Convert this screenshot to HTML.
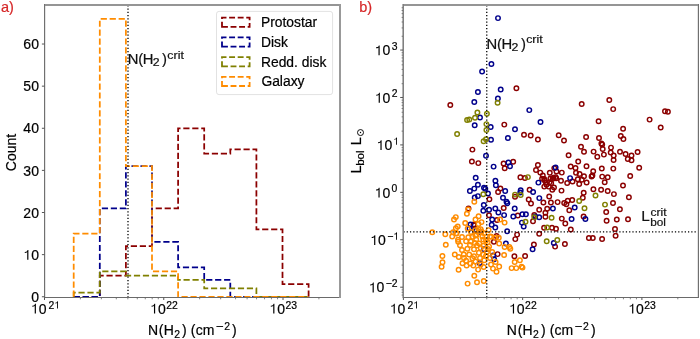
<!DOCTYPE html><html><head><meta charset="utf-8"><title>figure</title><style>html,body{margin:0;padding:0;background:#fff;width:700px;height:339px;overflow:hidden;}svg{display:block;will-change:transform;}text{font-family:"Liberation Sans",sans-serif;font-kerning:none;stroke-width:0.2px;}</style></head><body>
<svg width="700" height="339" viewBox="0 0 700 339">
<rect x="0" y="0" width="700" height="339" fill="#fff"/>
<path d="M73.70,296.75 L73.70,296.75 L99.80,296.75 L99.80,275.69 L125.90,275.69 L125.90,246.21 L152.00,246.21 L152.00,208.30 L178.10,208.30 L178.10,128.27 L204.20,128.27 L204.20,153.54 L230.30,153.54 L230.30,149.33 L256.40,149.33 L256.40,229.36 L282.50,229.36 L282.50,284.11 L308.60,284.11 L308.60,296.75" fill="none" stroke="#8b0000" stroke-width="1.75" stroke-dasharray="6.2 2.77"/>
<path d="M73.70,296.75 L73.70,296.75 L99.80,296.75 L99.80,208.30 L125.90,208.30 L125.90,166.18 L152.00,166.18 L152.00,241.99 L178.10,241.99 L178.10,267.27 L204.20,267.27 L204.20,279.90 L230.30,279.90 L230.30,296.75 L256.40,296.75 L256.40,296.75 L282.50,296.75 L282.50,296.75 L308.60,296.75 L308.60,296.75" fill="none" stroke="#00008b" stroke-width="1.75" stroke-dasharray="6.2 2.77"/>
<path d="M73.70,296.75 L73.70,292.54 L99.80,292.54 L99.80,271.48 L125.90,271.48 L125.90,275.69 L152.00,275.69 L152.00,275.69 L178.10,275.69 L178.10,279.90 L204.20,279.90 L204.20,288.33 L230.30,288.33 L230.30,288.33 L256.40,288.33 L256.40,296.75 L282.50,296.75 L282.50,296.75 L308.60,296.75 L308.60,296.75" fill="none" stroke="#808000" stroke-width="1.75" stroke-dasharray="6.2 2.77"/>
<path d="M73.70,296.75 L73.70,233.57 L99.80,233.57 L99.80,18.76 L125.90,18.76 L125.90,166.18 L152.00,166.18 L152.00,271.48 L178.10,271.48 L178.10,296.75 L204.20,296.75 L204.20,296.75 L230.30,296.75 L230.30,296.75 L256.40,296.75 L256.40,296.75 L282.50,296.75 L282.50,296.75 L308.60,296.75 L308.60,296.75" fill="none" stroke="#ff8c00" stroke-width="1.75" stroke-dasharray="6.2 2.77"/>
<line x1="128.0" y1="297.5" x2="128.0" y2="4.5" stroke="#000" stroke-width="1.3" stroke-dasharray="1.25 2.021"/>
<text x="127.79" y="64.30" font-size="14.8" fill="#111" stroke="#111" text-anchor="start">N</text>
<text x="138.28" y="64.30" font-size="14.8" fill="#111" stroke="#111" text-anchor="start">(</text>
<text x="142.79" y="64.30" font-size="14.8" fill="#111" stroke="#111" text-anchor="start">H</text>
<text transform="translate(152.78,66.40) scale(1.160,1)" x="0" y="0" font-size="10.6" fill="#111" stroke="#111">2</text>
<text x="162.11" y="64.30" font-size="14.8" fill="#111" stroke="#111" text-anchor="start">)</text>
<text transform="translate(167.37,59.00) scale(1.147,1)" x="0" y="0" font-size="10.8" fill="#111" stroke="#111">crit</text>
<rect x="44" y="4" width="297" height="2" fill="#959595"/><rect x="44" y="297" width="297" height="1" fill="#6a6a6a"/><rect x="44" y="4" width="1" height="294" fill="#707070"/><rect x="45" y="6" width="1" height="291" fill="#e4e4e4"/><rect x="339" y="4" width="2" height="294" fill="#999999"/>
<line x1="41.9" y1="296.75" x2="44.5" y2="296.75" stroke="#555" stroke-width="1"/>
<text x="31.16" y="301.95" font-size="14" fill="#000" stroke="#000" text-anchor="start">0</text>
<line x1="41.9" y1="254.63" x2="44.5" y2="254.63" stroke="#555" stroke-width="1"/>
<polygon points="27.21,259.83 28.40,259.83 28.40,249.99 27.57,249.99 27.36,250.59 26.94,251.22 26.24,251.64 24.79,251.91 24.79,252.89 26.03,252.75 26.73,252.48 27.21,252.10" fill="#000"/>
<text x="31.16" y="259.83" font-size="14" fill="#000" stroke="#000">0</text>
<line x1="41.9" y1="212.51" x2="44.5" y2="212.51" stroke="#555" stroke-width="1"/>
<text x="23.37" y="217.71" font-size="14" fill="#000" stroke="#000" text-anchor="start">20</text>
<line x1="41.9" y1="170.39" x2="44.5" y2="170.39" stroke="#555" stroke-width="1"/>
<text x="23.37" y="175.59" font-size="14" fill="#000" stroke="#000" text-anchor="start">30</text>
<line x1="41.9" y1="128.27" x2="44.5" y2="128.27" stroke="#555" stroke-width="1"/>
<text x="23.37" y="133.47" font-size="14" fill="#000" stroke="#000" text-anchor="start">40</text>
<line x1="41.9" y1="86.15" x2="44.5" y2="86.15" stroke="#555" stroke-width="1"/>
<text x="23.37" y="91.35" font-size="14" fill="#000" stroke="#000" text-anchor="start">50</text>
<line x1="41.9" y1="44.03" x2="44.5" y2="44.03" stroke="#555" stroke-width="1"/>
<text x="23.37" y="49.23" font-size="14" fill="#000" stroke="#000" text-anchor="start">60</text>
<line x1="44.50" y1="297.5" x2="44.50" y2="300" stroke="#555" stroke-width="1"/>
<line x1="80.40" y1="297.5" x2="80.40" y2="299.3" stroke="#666" stroke-width="0.8"/>
<line x1="101.40" y1="297.5" x2="101.40" y2="299.3" stroke="#666" stroke-width="0.8"/>
<line x1="116.30" y1="297.5" x2="116.30" y2="299.3" stroke="#666" stroke-width="0.8"/>
<line x1="127.85" y1="297.5" x2="127.85" y2="299.3" stroke="#666" stroke-width="0.8"/>
<line x1="137.29" y1="297.5" x2="137.29" y2="299.3" stroke="#666" stroke-width="0.8"/>
<line x1="145.28" y1="297.5" x2="145.28" y2="299.3" stroke="#666" stroke-width="0.8"/>
<line x1="152.19" y1="297.5" x2="152.19" y2="299.3" stroke="#666" stroke-width="0.8"/>
<line x1="158.29" y1="297.5" x2="158.29" y2="299.3" stroke="#666" stroke-width="0.8"/>
<polygon points="34.72,313.60 35.91,313.60 35.91,303.76 35.08,303.76 34.87,304.36 34.45,304.99 33.75,305.41 32.30,305.68 32.30,306.66 33.54,306.52 34.24,306.25 34.72,305.87" fill="#000"/>
<text x="38.67" y="313.60" font-size="14" fill="#000" stroke="#000">0</text>
<text x="48.48" y="308.60" font-size="10.4" fill="#000" stroke="#000">2</text>
<polygon points="57.12,308.60 58.00,308.60 58.00,301.29 57.39,301.29 57.23,301.74 56.92,302.20 56.40,302.52 55.32,302.71 55.32,303.44 56.24,303.34 56.76,303.14 57.12,302.86" fill="#000"/>
<line x1="163.75" y1="297.5" x2="163.75" y2="300" stroke="#555" stroke-width="1"/>
<line x1="199.65" y1="297.5" x2="199.65" y2="299.3" stroke="#666" stroke-width="0.8"/>
<line x1="220.65" y1="297.5" x2="220.65" y2="299.3" stroke="#666" stroke-width="0.8"/>
<line x1="235.55" y1="297.5" x2="235.55" y2="299.3" stroke="#666" stroke-width="0.8"/>
<line x1="247.10" y1="297.5" x2="247.10" y2="299.3" stroke="#666" stroke-width="0.8"/>
<line x1="256.54" y1="297.5" x2="256.54" y2="299.3" stroke="#666" stroke-width="0.8"/>
<line x1="264.53" y1="297.5" x2="264.53" y2="299.3" stroke="#666" stroke-width="0.8"/>
<line x1="271.44" y1="297.5" x2="271.44" y2="299.3" stroke="#666" stroke-width="0.8"/>
<line x1="277.54" y1="297.5" x2="277.54" y2="299.3" stroke="#666" stroke-width="0.8"/>
<polygon points="153.97,313.60 155.16,313.60 155.16,303.76 154.33,303.76 154.12,304.36 153.70,304.99 153.00,305.41 151.55,305.68 151.55,306.66 152.79,306.52 153.49,306.25 153.97,305.87" fill="#000"/>
<text x="157.92" y="313.60" font-size="14" fill="#000" stroke="#000">0</text>
<text x="166.21" y="308.60" font-size="10.4" fill="#000" stroke="#000" text-anchor="start">22</text>
<line x1="283.00" y1="297.5" x2="283.00" y2="300" stroke="#555" stroke-width="1"/>
<line x1="318.90" y1="297.5" x2="318.90" y2="299.3" stroke="#666" stroke-width="0.8"/>
<polygon points="273.22,313.60 274.41,313.60 274.41,303.76 273.58,303.76 273.37,304.36 272.95,304.99 272.25,305.41 270.80,305.68 270.80,306.66 272.04,306.52 272.74,306.25 273.22,305.87" fill="#000"/>
<text x="277.17" y="313.60" font-size="14" fill="#000" stroke="#000">0</text>
<text x="285.39" y="308.60" font-size="10.4" fill="#000" stroke="#000" text-anchor="start">23</text>
<text x="147.95" y="334.70" font-size="14" fill="#000" stroke="#000" text-anchor="start">N</text>
<text x="158.83" y="334.70" font-size="14" fill="#000" stroke="#000" text-anchor="start">(</text>
<text x="163.65" y="334.70" font-size="14" fill="#000" stroke="#000" text-anchor="start">H</text>
<text x="174.28" y="337.60" font-size="10.4" fill="#000" stroke="#000" text-anchor="start">2</text>
<text x="182.12" y="334.70" font-size="14" fill="#000" stroke="#000" text-anchor="start">)</text>
<text x="190.83" y="334.70" font-size="14" fill="#000" stroke="#000" text-anchor="start">(</text>
<text x="195.81" y="334.70" font-size="14" fill="#000" stroke="#000" text-anchor="start">cm</text>
<rect x="216.40" y="326.1" width="6.7" height="0.9" fill="#000"/>
<text x="224.18" y="329.60" font-size="10.4" fill="#000" stroke="#000" text-anchor="start">2</text>
<text x="232.12" y="334.70" font-size="14" fill="#000" stroke="#000" text-anchor="start">)</text>
<text transform="translate(16.0,152.5) rotate(-90)" font-size="14" text-anchor="middle" fill="#000" stroke="#000">Count</text>
<rect x="216.5" y="11.4" width="116.1" height="83.2" rx="2.5" ry="2.5" fill="#fff" fill-opacity="0.8" stroke="#e2e2e2" stroke-width="1"/>
<path d="M222.00,26.90 L249.60,26.90 L249.60,17.70 L222.00,17.70 Z" fill="none" stroke="#8b0000" stroke-width="1.8" stroke-dasharray="5.9 2.66" stroke-linejoin="miter"/>
<text x="260.96" y="27.10" font-size="13.85" fill="#000" stroke="#000" text-anchor="start">Protostar</text>
<path d="M222.00,46.60 L249.60,46.60 L249.60,37.40 L222.00,37.40 Z" fill="none" stroke="#00008b" stroke-width="1.8" stroke-dasharray="5.9 2.66" stroke-linejoin="miter"/>
<text x="260.96" y="46.80" font-size="13.85" fill="#000" stroke="#000" text-anchor="start">Disk</text>
<path d="M222.00,66.30 L249.60,66.30 L249.60,57.10 L222.00,57.10 Z" fill="none" stroke="#808000" stroke-width="1.8" stroke-dasharray="5.9 2.66" stroke-linejoin="miter"/>
<text x="260.96" y="66.50" font-size="13.85" fill="#000" stroke="#000" text-anchor="start">Redd. disk</text>
<path d="M222.00,86.00 L249.60,86.00 L249.60,76.80 L222.00,76.80 Z" fill="none" stroke="#ff8c00" stroke-width="1.8" stroke-dasharray="5.9 2.66" stroke-linejoin="miter"/>
<text x="261.40" y="86.20" font-size="13.85" fill="#000" stroke="#000" text-anchor="start">Galaxy</text>
<text x="0.88" y="11.80" font-size="14.5" fill="#d62728" stroke="#d62728" text-anchor="start">a)</text>
<g fill="none" stroke="#8b0000" stroke-width="1.45"><circle cx="516.4" cy="88.3" r="2.25"/><circle cx="450.3" cy="104.9" r="2.25"/><circle cx="504.3" cy="124.6" r="2.25"/><circle cx="524.0" cy="134.7" r="2.25"/><circle cx="530.7" cy="135.5" r="2.25"/><circle cx="537.9" cy="139.5" r="2.25"/><circle cx="581.7" cy="103.9" r="2.25"/><circle cx="609.3" cy="99.9" r="2.25"/><circle cx="613.2" cy="109.1" r="2.25"/><circle cx="598.6" cy="121.3" r="2.25"/><circle cx="623.1" cy="128.8" r="2.25"/><circle cx="558.7" cy="135.3" r="2.25"/><circle cx="564.0" cy="140.5" r="2.25"/><circle cx="586.1" cy="137.0" r="2.25"/><circle cx="599.0" cy="138.0" r="2.25"/><circle cx="620.8" cy="136.0" r="2.25"/><circle cx="623.4" cy="139.0" r="2.25"/><circle cx="665.0" cy="111.3" r="2.25"/><circle cx="667.9" cy="111.7" r="2.25"/><circle cx="649.6" cy="119.6" r="2.25"/><circle cx="660.7" cy="127.4" r="2.25"/><circle cx="472.4" cy="149.6" r="2.25"/><circle cx="471.9" cy="161.4" r="2.25"/><circle cx="478.3" cy="163.1" r="2.25"/><circle cx="581.0" cy="146.8" r="2.25"/><circle cx="584.0" cy="151.8" r="2.25"/><circle cx="568.6" cy="155.2" r="2.25"/><circle cx="503.6" cy="163.4" r="2.25"/><circle cx="504.7" cy="168.3" r="2.25"/><circle cx="513.2" cy="161.8" r="2.25"/><circle cx="537.9" cy="164.9" r="2.25"/><circle cx="536.0" cy="170.0" r="2.25"/><circle cx="554.3" cy="168.1" r="2.25"/><circle cx="570.7" cy="166.5" r="2.25"/><circle cx="578.2" cy="161.5" r="2.25"/><circle cx="586.5" cy="166.3" r="2.25"/><circle cx="575.5" cy="168.0" r="2.25"/><circle cx="540.3" cy="172.6" r="2.25"/><circle cx="549.8" cy="172.8" r="2.25"/><circle cx="561.8" cy="172.6" r="2.25"/><circle cx="556.5" cy="171.4" r="2.25"/><circle cx="520.4" cy="177.2" r="2.25"/><circle cx="524.9" cy="178.0" r="2.25"/><circle cx="542.8" cy="175.4" r="2.25"/><circle cx="576.0" cy="172.7" r="2.25"/><circle cx="579.6" cy="174.0" r="2.25"/><circle cx="584.0" cy="176.2" r="2.25"/><circle cx="555.7" cy="177.1" r="2.25"/><circle cx="553.5" cy="177.6" r="2.25"/><circle cx="550.4" cy="178.5" r="2.25"/><circle cx="544.2" cy="178.9" r="2.25"/><circle cx="561.0" cy="180.7" r="2.25"/><circle cx="577.8" cy="179.3" r="2.25"/><circle cx="581.8" cy="179.8" r="2.25"/><circle cx="545.9" cy="182.4" r="2.25"/><circle cx="567.2" cy="182.9" r="2.25"/><circle cx="572.5" cy="181.5" r="2.25"/><circle cx="586.6" cy="182.5" r="2.25"/><circle cx="551.2" cy="183.3" r="2.25"/><circle cx="601.4" cy="143.4" r="2.25"/><circle cx="602.2" cy="144.4" r="2.25"/><circle cx="602.7" cy="148.9" r="2.25"/><circle cx="611.0" cy="147.6" r="2.25"/><circle cx="593.6" cy="151.6" r="2.25"/><circle cx="603.9" cy="154.6" r="2.25"/><circle cx="597.3" cy="156.7" r="2.25"/><circle cx="610.7" cy="152.4" r="2.25"/><circle cx="613.7" cy="155.5" r="2.25"/><circle cx="613.6" cy="160.0" r="2.25"/><circle cx="620.0" cy="151.7" r="2.25"/><circle cx="625.6" cy="153.9" r="2.25"/><circle cx="631.5" cy="155.4" r="2.25"/><circle cx="637.6" cy="151.9" r="2.25"/><circle cx="627.8" cy="159.0" r="2.25"/><circle cx="631.5" cy="160.3" r="2.25"/><circle cx="601.8" cy="168.4" r="2.25"/><circle cx="613.3" cy="168.6" r="2.25"/><circle cx="639.2" cy="167.7" r="2.25"/><circle cx="593.2" cy="171.3" r="2.25"/><circle cx="592.4" cy="175.4" r="2.25"/><circle cx="591.6" cy="176.4" r="2.25"/><circle cx="602.2" cy="176.6" r="2.25"/><circle cx="607.7" cy="177.2" r="2.25"/><circle cx="630.2" cy="175.9" r="2.25"/><circle cx="604.7" cy="182.3" r="2.25"/><circle cx="623.0" cy="185.5" r="2.25"/><circle cx="542.1" cy="178.7" r="2.25"/><circle cx="544.7" cy="180.4" r="2.25"/><circle cx="546.5" cy="184.8" r="2.25"/><circle cx="549.6" cy="182.2" r="2.25"/><circle cx="552.7" cy="178.7" r="2.25"/><circle cx="556.2" cy="178.2" r="2.25"/><circle cx="554.0" cy="187.5" r="2.25"/><circle cx="552.3" cy="189.7" r="2.25"/><circle cx="548.7" cy="186.6" r="2.25"/><circle cx="544.3" cy="186.6" r="2.25"/><circle cx="579.2" cy="184.0" r="2.25"/><circle cx="561.5" cy="190.6" r="2.25"/><circle cx="593.4" cy="189.3" r="2.25"/><circle cx="583.7" cy="192.8" r="2.25"/><circle cx="549.2" cy="196.4" r="2.25"/><circle cx="582.8" cy="197.7" r="2.25"/><circle cx="543.4" cy="202.5" r="2.25"/><circle cx="550.9" cy="202.5" r="2.25"/><circle cx="557.6" cy="202.1" r="2.25"/><circle cx="564.2" cy="203.0" r="2.25"/><circle cx="567.7" cy="200.8" r="2.25"/><circle cx="572.2" cy="199.9" r="2.25"/><circle cx="566.4" cy="204.3" r="2.25"/><circle cx="601.1" cy="189.7" r="2.25"/><circle cx="607.7" cy="191.0" r="2.25"/><circle cx="613.9" cy="194.1" r="2.25"/><circle cx="628.9" cy="197.2" r="2.25"/><circle cx="613.0" cy="203.0" r="2.25"/><circle cx="500.4" cy="188.4" r="2.25"/><circle cx="498.1" cy="191.9" r="2.25"/><circle cx="489.4" cy="199.2" r="2.25"/><circle cx="515.0" cy="196.8" r="2.25"/><circle cx="529.6" cy="189.7" r="2.25"/><circle cx="528.7" cy="199.5" r="2.25"/><circle cx="531.0" cy="203.4" r="2.25"/><circle cx="468.5" cy="208.4" r="2.25"/><circle cx="489.0" cy="215.3" r="2.25"/><circle cx="503.7" cy="208.0" r="2.25"/><circle cx="497.0" cy="219.9" r="2.25"/><circle cx="473.6" cy="224.4" r="2.25"/><circle cx="517.8" cy="215.5" r="2.25"/><circle cx="539.2" cy="209.7" r="2.25"/><circle cx="547.2" cy="208.8" r="2.25"/><circle cx="545.4" cy="212.8" r="2.25"/><circle cx="545.4" cy="216.8" r="2.25"/><circle cx="534.3" cy="215.0" r="2.25"/><circle cx="533.0" cy="221.2" r="2.25"/><circle cx="561.8" cy="218.6" r="2.25"/><circle cx="565.3" cy="223.5" r="2.25"/><circle cx="569.3" cy="210.2" r="2.25"/><circle cx="544.1" cy="227.8" r="2.25"/><circle cx="552.0" cy="227.8" r="2.25"/><circle cx="556.0" cy="228.8" r="2.25"/><circle cx="570.8" cy="229.5" r="2.25"/><circle cx="583.6" cy="216.4" r="2.25"/><circle cx="619.9" cy="209.3" r="2.25"/><circle cx="606.2" cy="211.9" r="2.25"/><circle cx="606.6" cy="220.8" r="2.25"/><circle cx="616.8" cy="219.5" r="2.25"/><circle cx="615.0" cy="229.0" r="2.25"/><circle cx="628.0" cy="219.3" r="2.25"/><circle cx="615.6" cy="235.7" r="2.25"/><circle cx="588.9" cy="238.0" r="2.25"/><circle cx="592.8" cy="238.0" r="2.25"/><circle cx="602.1" cy="238.9" r="2.25"/><circle cx="564.9" cy="243.9" r="2.25"/><circle cx="517.1" cy="234.6" r="2.25"/><circle cx="515.3" cy="239.1" r="2.25"/><circle cx="539.2" cy="233.8" r="2.25"/><circle cx="555.1" cy="246.6" r="2.25"/><circle cx="533.9" cy="244.4" r="2.25"/><circle cx="514.4" cy="256.3" r="2.25"/><circle cx="525.1" cy="256.0" r="2.25"/><circle cx="493.9" cy="241.7" r="2.25"/><circle cx="496.6" cy="236.0" r="2.25"/><circle cx="497.6" cy="254.1" r="2.25"/><circle cx="474.2" cy="225.3" r="2.25"/></g>
<g fill="none" stroke="#00008b" stroke-width="1.45"><circle cx="498.0" cy="18.1" r="2.25"/><circle cx="491.4" cy="64.0" r="2.25"/><circle cx="482.1" cy="71.5" r="2.25"/><circle cx="477.9" cy="92.0" r="2.25"/><circle cx="500.7" cy="89.4" r="2.25"/><circle cx="497.9" cy="98.4" r="2.25"/><circle cx="474.3" cy="102.0" r="2.25"/><circle cx="529.3" cy="110.1" r="2.25"/><circle cx="480.0" cy="117.4" r="2.25"/><circle cx="540.5" cy="122.0" r="2.25"/><circle cx="474.7" cy="125.3" r="2.25"/><circle cx="490.7" cy="127.0" r="2.25"/><circle cx="515.0" cy="129.3" r="2.25"/><circle cx="491.0" cy="139.7" r="2.25"/><circle cx="507.9" cy="137.9" r="2.25"/><circle cx="486.0" cy="155.7" r="2.25"/><circle cx="493.6" cy="166.6" r="2.25"/><circle cx="508.4" cy="162.4" r="2.25"/><circle cx="510.0" cy="166.2" r="2.25"/><circle cx="555.6" cy="167.4" r="2.25"/><circle cx="475.7" cy="177.7" r="2.25"/><circle cx="495.4" cy="180.8" r="2.25"/><circle cx="538.4" cy="182.6" r="2.25"/><circle cx="570.1" cy="178.1" r="2.25"/><circle cx="477.9" cy="184.8" r="2.25"/><circle cx="474.3" cy="188.6" r="2.25"/><circle cx="469.9" cy="190.9" r="2.25"/><circle cx="484.0" cy="187.7" r="2.25"/><circle cx="485.3" cy="188.8" r="2.25"/><circle cx="495.9" cy="185.3" r="2.25"/><circle cx="488.0" cy="193.4" r="2.25"/><circle cx="477.9" cy="196.1" r="2.25"/><circle cx="474.7" cy="197.4" r="2.25"/><circle cx="505.2" cy="191.0" r="2.25"/><circle cx="503.0" cy="197.7" r="2.25"/><circle cx="506.5" cy="201.7" r="2.25"/><circle cx="507.4" cy="203.2" r="2.25"/><circle cx="520.7" cy="190.2" r="2.25"/><circle cx="520.3" cy="192.4" r="2.25"/><circle cx="533.1" cy="191.9" r="2.25"/><circle cx="539.3" cy="198.1" r="2.25"/><circle cx="483.8" cy="205.0" r="2.25"/><circle cx="483.3" cy="210.7" r="2.25"/><circle cx="489.1" cy="209.8" r="2.25"/><circle cx="495.3" cy="208.4" r="2.25"/><circle cx="498.4" cy="212.4" r="2.25"/><circle cx="504.1" cy="215.1" r="2.25"/><circle cx="513.3" cy="216.4" r="2.25"/><circle cx="514.7" cy="208.4" r="2.25"/><circle cx="492.2" cy="219.5" r="2.25"/><circle cx="491.7" cy="224.8" r="2.25"/><circle cx="495.3" cy="227.5" r="2.25"/><circle cx="470.5" cy="224.4" r="2.25"/><circle cx="476.2" cy="230.5" r="2.25"/><circle cx="478.9" cy="232.0" r="2.25"/><circle cx="507.2" cy="231.2" r="2.25"/><circle cx="522.4" cy="214.2" r="2.25"/><circle cx="525.9" cy="214.2" r="2.25"/><circle cx="552.9" cy="208.4" r="2.25"/><circle cx="535.2" cy="216.4" r="2.25"/><circle cx="539.2" cy="217.3" r="2.25"/><circle cx="521.9" cy="222.6" r="2.25"/><circle cx="523.7" cy="226.5" r="2.25"/><circle cx="574.7" cy="207.5" r="2.25"/><circle cx="571.6" cy="219.0" r="2.25"/><circle cx="585.4" cy="219.0" r="2.25"/><circle cx="553.8" cy="243.0" r="2.25"/><circle cx="532.6" cy="249.2" r="2.25"/><circle cx="505.9" cy="243.5" r="2.25"/><circle cx="493.1" cy="255.4" r="2.25"/><circle cx="484.2" cy="249.2" r="2.25"/><circle cx="494.1" cy="259.3" r="2.25"/><circle cx="479.6" cy="262.9" r="2.25"/><circle cx="474.8" cy="230.3" r="2.25"/><circle cx="469.5" cy="228.5" r="2.25"/></g>
<g fill="none" stroke="#808000" stroke-width="1.45"><circle cx="497.6" cy="102.7" r="2.25"/><circle cx="477.4" cy="112.4" r="2.25"/><circle cx="486.9" cy="113.7" r="2.25"/><circle cx="475.0" cy="117.7" r="2.25"/><circle cx="467.1" cy="119.9" r="2.25"/><circle cx="469.3" cy="119.4" r="2.25"/><circle cx="486.4" cy="124.1" r="2.25"/><circle cx="486.4" cy="130.0" r="2.25"/><circle cx="457.1" cy="134.0" r="2.25"/><circle cx="483.6" cy="141.3" r="2.25"/><circle cx="486.0" cy="139.2" r="2.25"/><circle cx="527.9" cy="177.1" r="2.25"/><circle cx="483.3" cy="194.2" r="2.25"/><circle cx="515.0" cy="194.6" r="2.25"/><circle cx="520.7" cy="195.0" r="2.25"/><circle cx="579.2" cy="200.9" r="2.25"/><circle cx="595.5" cy="195.5" r="2.25"/><circle cx="584.5" cy="208.2" r="2.25"/><circle cx="605.0" cy="204.6" r="2.25"/><circle cx="534.3" cy="217.3" r="2.25"/><circle cx="551.6" cy="217.7" r="2.25"/><circle cx="525.5" cy="221.7" r="2.25"/><circle cx="547.2" cy="227.5" r="2.25"/><circle cx="546.7" cy="241.3" r="2.25"/><circle cx="557.3" cy="240.0" r="2.25"/></g>
<g fill="none" stroke="#ff8c00" stroke-width="1.45"><circle cx="474.3" cy="201.7" r="2.25"/><circle cx="468.2" cy="209.5" r="2.25"/><circle cx="466.9" cy="213.7" r="2.25"/><circle cx="455.8" cy="217.1" r="2.25"/><circle cx="454.0" cy="219.4" r="2.25"/><circle cx="478.6" cy="216.3" r="2.25"/><circle cx="475.5" cy="219.4" r="2.25"/><circle cx="457.7" cy="226.5" r="2.25"/><circle cx="455.9" cy="228.3" r="2.25"/><circle cx="432.3" cy="232.3" r="2.25"/><circle cx="445.3" cy="234.2" r="2.25"/><circle cx="453.1" cy="232.3" r="2.25"/><circle cx="465.2" cy="223.0" r="2.25"/><circle cx="481.5" cy="222.1" r="2.25"/><circle cx="478.5" cy="223.9" r="2.25"/><circle cx="475.4" cy="230.1" r="2.25"/><circle cx="488.6" cy="230.1" r="2.25"/><circle cx="481.5" cy="231.4" r="2.25"/><circle cx="484.2" cy="233.2" r="2.25"/><circle cx="500.1" cy="219.5" r="2.25"/><circle cx="504.6" cy="222.6" r="2.25"/><circle cx="452.2" cy="236.4" r="2.25"/><circle cx="456.6" cy="233.3" r="2.25"/><circle cx="458.0" cy="239.8" r="2.25"/><circle cx="458.2" cy="241.8" r="2.25"/><circle cx="460.0" cy="245.3" r="2.25"/><circle cx="445.8" cy="244.8" r="2.25"/><circle cx="442.4" cy="255.9" r="2.25"/><circle cx="454.8" cy="254.5" r="2.25"/><circle cx="458.8" cy="257.0" r="2.25"/><circle cx="466.1" cy="241.3" r="2.25"/><circle cx="468.3" cy="237.3" r="2.25"/><circle cx="472.7" cy="236.8" r="2.25"/><circle cx="475.4" cy="235.5" r="2.25"/><circle cx="476.2" cy="239.5" r="2.25"/><circle cx="479.3" cy="243.5" r="2.25"/><circle cx="482.4" cy="236.4" r="2.25"/><circle cx="483.3" cy="239.5" r="2.25"/><circle cx="486.0" cy="240.4" r="2.25"/><circle cx="490.0" cy="236.4" r="2.25"/><circle cx="491.3" cy="236.8" r="2.25"/><circle cx="467.4" cy="248.8" r="2.25"/><circle cx="474.0" cy="249.2" r="2.25"/><circle cx="480.7" cy="247.9" r="2.25"/><circle cx="483.3" cy="245.7" r="2.25"/><circle cx="489.1" cy="246.6" r="2.25"/><circle cx="478.9" cy="252.8" r="2.25"/><circle cx="483.3" cy="254.5" r="2.25"/><circle cx="486.9" cy="251.9" r="2.25"/><circle cx="492.2" cy="251.9" r="2.25"/><circle cx="469.2" cy="254.5" r="2.25"/><circle cx="463.8" cy="254.5" r="2.25"/><circle cx="474.0" cy="256.3" r="2.25"/><circle cx="499.2" cy="243.5" r="2.25"/><circle cx="495.7" cy="237.7" r="2.25"/><circle cx="498.8" cy="237.7" r="2.25"/><circle cx="504.6" cy="247.0" r="2.25"/><circle cx="509.4" cy="247.0" r="2.25"/><circle cx="510.3" cy="248.8" r="2.25"/><circle cx="504.1" cy="255.0" r="2.25"/><circle cx="442.5" cy="262.2" r="2.25"/><circle cx="441.6" cy="266.7" r="2.25"/><circle cx="462.5" cy="263.2" r="2.25"/><circle cx="466.1" cy="260.8" r="2.25"/><circle cx="466.6" cy="265.5" r="2.25"/><circle cx="458.6" cy="269.8" r="2.25"/><circle cx="467.6" cy="283.6" r="2.25"/><circle cx="472.4" cy="258.3" r="2.25"/><circle cx="475.5" cy="261.4" r="2.25"/><circle cx="470.3" cy="263.4" r="2.25"/><circle cx="473.4" cy="265.5" r="2.25"/><circle cx="478.1" cy="269.6" r="2.25"/><circle cx="480.6" cy="264.5" r="2.25"/><circle cx="483.7" cy="267.0" r="2.25"/><circle cx="484.3" cy="260.3" r="2.25"/><circle cx="491.0" cy="264.5" r="2.25"/><circle cx="495.6" cy="261.9" r="2.25"/><circle cx="499.2" cy="266.5" r="2.25"/><circle cx="493.0" cy="268.6" r="2.25"/><circle cx="496.5" cy="271.7" r="2.25"/><circle cx="514.7" cy="261.9" r="2.25"/><circle cx="519.9" cy="260.3" r="2.25"/><circle cx="511.6" cy="268.1" r="2.25"/><circle cx="516.3" cy="268.1" r="2.25"/><circle cx="522.5" cy="267.6" r="2.25"/><circle cx="521.6" cy="266.6" r="2.25"/><circle cx="474.3" cy="275.8" r="2.25"/><circle cx="477.0" cy="282.3" r="2.25"/><circle cx="483.8" cy="281.0" r="2.25"/><circle cx="456.2" cy="233.6" r="2.25"/><circle cx="467.7" cy="228.5" r="2.25"/><circle cx="470.9" cy="241.5" r="2.25"/><circle cx="476.5" cy="235.0" r="2.25"/><circle cx="474.8" cy="243.0" r="2.25"/><circle cx="478.3" cy="229.1" r="2.25"/><circle cx="480.7" cy="229.1" r="2.25"/><circle cx="487.8" cy="242.1" r="2.25"/><circle cx="462.0" cy="250.0" r="2.25"/><circle cx="470.0" cy="245.0" r="2.25"/><circle cx="477.0" cy="245.5" r="2.25"/><circle cx="486.0" cy="256.0" r="2.25"/><circle cx="471.0" cy="232.0" r="2.25"/><circle cx="462.0" cy="237.0" r="2.25"/><circle cx="488.0" cy="249.0" r="2.25"/><circle cx="480.0" cy="258.0" r="2.25"/><circle cx="490.0" cy="258.0" r="2.25"/><circle cx="464.0" cy="258.0" r="2.25"/></g>
<line x1="486.75" y1="297.5" x2="486.75" y2="4.5" stroke="#000" stroke-width="1.3" stroke-dasharray="1.25 2.021"/>
<line x1="403.4" y1="231.95" x2="698.5" y2="231.95" stroke="#000" stroke-width="1.3" stroke-dasharray="1.25 2.021"/>
<text x="486.59" y="48.60" font-size="14.8" fill="#111" stroke="#111" text-anchor="start">N</text>
<text x="497.08" y="48.60" font-size="14.8" fill="#111" stroke="#111" text-anchor="start">(</text>
<text x="501.59" y="48.60" font-size="14.8" fill="#111" stroke="#111" text-anchor="start">H</text>
<text transform="translate(511.58,50.70) scale(1.160,1)" x="0" y="0" font-size="10.6" fill="#111" stroke="#111">2</text>
<text x="520.91" y="48.60" font-size="14.8" fill="#111" stroke="#111" text-anchor="start">)</text>
<text transform="translate(526.17,43.30) scale(1.147,1)" x="0" y="0" font-size="10.8" fill="#111" stroke="#111">crit</text>
<text x="641.34" y="221.40" font-size="15.4" fill="#111" stroke="#111" text-anchor="start">L</text>
<text transform="translate(650.49,215.60) scale(1.111,1)" x="0" y="0" font-size="10.8" fill="#111" stroke="#111">crit</text>
<text transform="translate(650.24,226.10) scale(1.093,1)" x="0" y="0" font-size="10.8" fill="#111" stroke="#111">bol</text>
<rect x="402" y="4" width="297" height="2" fill="#959595"/><rect x="402" y="297" width="297" height="1" fill="#6a6a6a"/><rect x="402" y="4" width="1" height="294" fill="#b4b4b4"/><rect x="403" y="4" width="1" height="294" fill="#808080"/><rect x="697" y="6" width="1" height="291" fill="#e4e4e4"/><rect x="698" y="4" width="1" height="294" fill="#707070"/>
<line x1="400.2" y1="287.20" x2="403" y2="287.20" stroke="#555" stroke-width="1"/>
<text x="385.67" y="287.10" font-size="10.4" fill="#000" stroke="#000" text-anchor="start">−2</text>
<polygon points="372.59,292.40 373.78,292.40 373.78,282.56 372.95,282.56 372.74,283.16 372.32,283.79 371.62,284.21 370.17,284.48 370.17,285.46 371.41,285.32 372.11,285.05 372.59,284.67" fill="#000"/>
<text x="376.54" y="292.40" font-size="14" fill="#000" stroke="#000">0</text>
<line x1="400.2" y1="239.77" x2="403" y2="239.77" stroke="#555" stroke-width="1"/>
<text x="387.19" y="239.67" font-size="10.4" fill="#000" stroke="#000">−</text>
<polygon points="396.12,239.67 397.00,239.67 397.00,232.36 396.39,232.36 396.23,232.81 395.92,233.27 395.40,233.59 394.32,233.78 394.32,234.51 395.24,234.41 395.76,234.21 396.12,233.93" fill="#000"/>
<polygon points="374.12,244.97 375.31,244.97 375.31,235.13 374.48,235.13 374.27,235.73 373.85,236.36 373.15,236.78 371.70,237.05 371.70,238.03 372.94,237.89 373.64,237.62 374.12,237.24" fill="#000"/>
<text x="378.07" y="244.97" font-size="14" fill="#000" stroke="#000">0</text>
<line x1="400.2" y1="192.34" x2="403" y2="192.34" stroke="#555" stroke-width="1"/>
<text x="391.62" y="192.24" font-size="10.4" fill="#000" stroke="#000" text-anchor="start">0</text>
<polygon points="378.44,197.54 379.63,197.54 379.63,187.70 378.80,187.70 378.59,188.30 378.17,188.93 377.47,189.35 376.02,189.62 376.02,190.60 377.26,190.46 377.96,190.19 378.44,189.81" fill="#000"/>
<text x="382.39" y="197.54" font-size="14" fill="#000" stroke="#000">0</text>
<line x1="400.2" y1="144.91" x2="403" y2="144.91" stroke="#555" stroke-width="1"/>
<polygon points="396.12,144.81 397.00,144.81 397.00,137.50 396.39,137.50 396.23,137.95 395.92,138.41 395.40,138.73 394.32,138.92 394.32,139.65 395.24,139.55 395.76,139.35 396.12,139.07" fill="#000"/>
<polygon points="380.43,150.11 381.62,150.11 381.62,140.27 380.79,140.27 380.58,140.87 380.16,141.50 379.46,141.92 378.01,142.19 378.01,143.17 379.25,143.03 379.95,142.76 380.43,142.38" fill="#000"/>
<text x="384.38" y="150.11" font-size="14" fill="#000" stroke="#000">0</text>
<line x1="400.2" y1="97.48" x2="403" y2="97.48" stroke="#555" stroke-width="1"/>
<text x="391.74" y="97.38" font-size="10.4" fill="#000" stroke="#000" text-anchor="start">2</text>
<polygon points="378.67,102.68 379.86,102.68 379.86,92.84 379.04,92.84 378.83,93.44 378.41,94.07 377.71,94.49 376.25,94.76 376.25,95.74 377.50,95.60 378.20,95.33 378.67,94.95" fill="#000"/>
<text x="382.62" y="102.68" font-size="14" fill="#000" stroke="#000">0</text>
<line x1="400.2" y1="50.05" x2="403" y2="50.05" stroke="#555" stroke-width="1"/>
<text x="391.67" y="49.95" font-size="10.4" fill="#000" stroke="#000" text-anchor="start">3</text>
<polygon points="378.48,55.25 379.67,55.25 379.67,45.41 378.84,45.41 378.63,46.01 378.21,46.64 377.51,47.06 376.06,47.33 376.06,48.31 377.30,48.17 378.00,47.90 378.48,47.52" fill="#000"/>
<text x="382.43" y="55.25" font-size="14" fill="#000" stroke="#000">0</text>
<line x1="401.6" y1="295.05" x2="403" y2="295.05" stroke="#666" stroke-width="0.8"/>
<line x1="401.6" y1="292.30" x2="403" y2="292.30" stroke="#666" stroke-width="0.8"/>
<line x1="401.6" y1="289.87" x2="403" y2="289.87" stroke="#666" stroke-width="0.8"/>
<line x1="401.6" y1="273.42" x2="403" y2="273.42" stroke="#666" stroke-width="0.8"/>
<line x1="401.6" y1="265.07" x2="403" y2="265.07" stroke="#666" stroke-width="0.8"/>
<line x1="401.6" y1="259.14" x2="403" y2="259.14" stroke="#666" stroke-width="0.8"/>
<line x1="401.6" y1="254.55" x2="403" y2="254.55" stroke="#666" stroke-width="0.8"/>
<line x1="401.6" y1="250.79" x2="403" y2="250.79" stroke="#666" stroke-width="0.8"/>
<line x1="401.6" y1="247.62" x2="403" y2="247.62" stroke="#666" stroke-width="0.8"/>
<line x1="401.6" y1="244.87" x2="403" y2="244.87" stroke="#666" stroke-width="0.8"/>
<line x1="401.6" y1="242.44" x2="403" y2="242.44" stroke="#666" stroke-width="0.8"/>
<line x1="401.6" y1="225.99" x2="403" y2="225.99" stroke="#666" stroke-width="0.8"/>
<line x1="401.6" y1="217.64" x2="403" y2="217.64" stroke="#666" stroke-width="0.8"/>
<line x1="401.6" y1="211.71" x2="403" y2="211.71" stroke="#666" stroke-width="0.8"/>
<line x1="401.6" y1="207.12" x2="403" y2="207.12" stroke="#666" stroke-width="0.8"/>
<line x1="401.6" y1="203.36" x2="403" y2="203.36" stroke="#666" stroke-width="0.8"/>
<line x1="401.6" y1="200.19" x2="403" y2="200.19" stroke="#666" stroke-width="0.8"/>
<line x1="401.6" y1="197.44" x2="403" y2="197.44" stroke="#666" stroke-width="0.8"/>
<line x1="401.6" y1="195.01" x2="403" y2="195.01" stroke="#666" stroke-width="0.8"/>
<line x1="401.6" y1="178.56" x2="403" y2="178.56" stroke="#666" stroke-width="0.8"/>
<line x1="401.6" y1="170.21" x2="403" y2="170.21" stroke="#666" stroke-width="0.8"/>
<line x1="401.6" y1="164.28" x2="403" y2="164.28" stroke="#666" stroke-width="0.8"/>
<line x1="401.6" y1="159.69" x2="403" y2="159.69" stroke="#666" stroke-width="0.8"/>
<line x1="401.6" y1="155.93" x2="403" y2="155.93" stroke="#666" stroke-width="0.8"/>
<line x1="401.6" y1="152.76" x2="403" y2="152.76" stroke="#666" stroke-width="0.8"/>
<line x1="401.6" y1="150.01" x2="403" y2="150.01" stroke="#666" stroke-width="0.8"/>
<line x1="401.6" y1="147.58" x2="403" y2="147.58" stroke="#666" stroke-width="0.8"/>
<line x1="401.6" y1="131.13" x2="403" y2="131.13" stroke="#666" stroke-width="0.8"/>
<line x1="401.6" y1="122.78" x2="403" y2="122.78" stroke="#666" stroke-width="0.8"/>
<line x1="401.6" y1="116.85" x2="403" y2="116.85" stroke="#666" stroke-width="0.8"/>
<line x1="401.6" y1="112.26" x2="403" y2="112.26" stroke="#666" stroke-width="0.8"/>
<line x1="401.6" y1="108.50" x2="403" y2="108.50" stroke="#666" stroke-width="0.8"/>
<line x1="401.6" y1="105.33" x2="403" y2="105.33" stroke="#666" stroke-width="0.8"/>
<line x1="401.6" y1="102.58" x2="403" y2="102.58" stroke="#666" stroke-width="0.8"/>
<line x1="401.6" y1="100.15" x2="403" y2="100.15" stroke="#666" stroke-width="0.8"/>
<line x1="401.6" y1="83.70" x2="403" y2="83.70" stroke="#666" stroke-width="0.8"/>
<line x1="401.6" y1="75.35" x2="403" y2="75.35" stroke="#666" stroke-width="0.8"/>
<line x1="401.6" y1="69.42" x2="403" y2="69.42" stroke="#666" stroke-width="0.8"/>
<line x1="401.6" y1="64.83" x2="403" y2="64.83" stroke="#666" stroke-width="0.8"/>
<line x1="401.6" y1="61.07" x2="403" y2="61.07" stroke="#666" stroke-width="0.8"/>
<line x1="401.6" y1="57.90" x2="403" y2="57.90" stroke="#666" stroke-width="0.8"/>
<line x1="401.6" y1="55.15" x2="403" y2="55.15" stroke="#666" stroke-width="0.8"/>
<line x1="401.6" y1="52.72" x2="403" y2="52.72" stroke="#666" stroke-width="0.8"/>
<line x1="401.6" y1="36.27" x2="403" y2="36.27" stroke="#666" stroke-width="0.8"/>
<line x1="401.6" y1="27.92" x2="403" y2="27.92" stroke="#666" stroke-width="0.8"/>
<line x1="401.6" y1="21.99" x2="403" y2="21.99" stroke="#666" stroke-width="0.8"/>
<line x1="401.6" y1="17.40" x2="403" y2="17.40" stroke="#666" stroke-width="0.8"/>
<line x1="401.6" y1="13.64" x2="403" y2="13.64" stroke="#666" stroke-width="0.8"/>
<line x1="401.6" y1="10.47" x2="403" y2="10.47" stroke="#666" stroke-width="0.8"/>
<line x1="401.6" y1="7.72" x2="403" y2="7.72" stroke="#666" stroke-width="0.8"/>
<line x1="403.40" y1="297.5" x2="403.40" y2="300" stroke="#555" stroke-width="1"/>
<line x1="439.30" y1="297.5" x2="439.30" y2="299.3" stroke="#666" stroke-width="0.8"/>
<line x1="460.30" y1="297.5" x2="460.30" y2="299.3" stroke="#666" stroke-width="0.8"/>
<line x1="475.20" y1="297.5" x2="475.20" y2="299.3" stroke="#666" stroke-width="0.8"/>
<line x1="486.75" y1="297.5" x2="486.75" y2="299.3" stroke="#666" stroke-width="0.8"/>
<line x1="496.19" y1="297.5" x2="496.19" y2="299.3" stroke="#666" stroke-width="0.8"/>
<line x1="504.18" y1="297.5" x2="504.18" y2="299.3" stroke="#666" stroke-width="0.8"/>
<line x1="511.09" y1="297.5" x2="511.09" y2="299.3" stroke="#666" stroke-width="0.8"/>
<line x1="517.19" y1="297.5" x2="517.19" y2="299.3" stroke="#666" stroke-width="0.8"/>
<polygon points="393.62,313.60 394.81,313.60 394.81,303.76 393.98,303.76 393.77,304.36 393.35,304.99 392.65,305.41 391.20,305.68 391.20,306.66 392.44,306.52 393.14,306.25 393.62,305.87" fill="#000"/>
<text x="397.57" y="313.60" font-size="14" fill="#000" stroke="#000">0</text>
<text x="407.38" y="308.60" font-size="10.4" fill="#000" stroke="#000">2</text>
<polygon points="416.02,308.60 416.90,308.60 416.90,301.29 416.29,301.29 416.13,301.74 415.82,302.20 415.30,302.52 414.22,302.71 414.22,303.44 415.14,303.34 415.66,303.14 416.02,302.86" fill="#000"/>
<line x1="522.65" y1="297.5" x2="522.65" y2="300" stroke="#555" stroke-width="1"/>
<line x1="558.55" y1="297.5" x2="558.55" y2="299.3" stroke="#666" stroke-width="0.8"/>
<line x1="579.55" y1="297.5" x2="579.55" y2="299.3" stroke="#666" stroke-width="0.8"/>
<line x1="594.45" y1="297.5" x2="594.45" y2="299.3" stroke="#666" stroke-width="0.8"/>
<line x1="606.00" y1="297.5" x2="606.00" y2="299.3" stroke="#666" stroke-width="0.8"/>
<line x1="615.44" y1="297.5" x2="615.44" y2="299.3" stroke="#666" stroke-width="0.8"/>
<line x1="623.43" y1="297.5" x2="623.43" y2="299.3" stroke="#666" stroke-width="0.8"/>
<line x1="630.34" y1="297.5" x2="630.34" y2="299.3" stroke="#666" stroke-width="0.8"/>
<line x1="636.44" y1="297.5" x2="636.44" y2="299.3" stroke="#666" stroke-width="0.8"/>
<polygon points="512.87,313.60 514.06,313.60 514.06,303.76 513.23,303.76 513.02,304.36 512.60,304.99 511.90,305.41 510.45,305.68 510.45,306.66 511.69,306.52 512.39,306.25 512.87,305.87" fill="#000"/>
<text x="516.82" y="313.60" font-size="14" fill="#000" stroke="#000">0</text>
<text x="525.11" y="308.60" font-size="10.4" fill="#000" stroke="#000" text-anchor="start">22</text>
<line x1="641.90" y1="297.5" x2="641.90" y2="300" stroke="#555" stroke-width="1"/>
<line x1="677.80" y1="297.5" x2="677.80" y2="299.3" stroke="#666" stroke-width="0.8"/>
<polygon points="632.12,313.60 633.31,313.60 633.31,303.76 632.48,303.76 632.27,304.36 631.85,304.99 631.15,305.41 629.70,305.68 629.70,306.66 630.94,306.52 631.64,306.25 632.12,305.87" fill="#000"/>
<text x="636.07" y="313.60" font-size="14" fill="#000" stroke="#000">0</text>
<text x="644.29" y="308.60" font-size="10.4" fill="#000" stroke="#000" text-anchor="start">23</text>
<text x="506.75" y="334.70" font-size="14" fill="#000" stroke="#000" text-anchor="start">N</text>
<text x="517.63" y="334.70" font-size="14" fill="#000" stroke="#000" text-anchor="start">(</text>
<text x="522.45" y="334.70" font-size="14" fill="#000" stroke="#000" text-anchor="start">H</text>
<text x="533.08" y="337.60" font-size="10.4" fill="#000" stroke="#000" text-anchor="start">2</text>
<text x="540.92" y="334.70" font-size="14" fill="#000" stroke="#000" text-anchor="start">)</text>
<text x="549.63" y="334.70" font-size="14" fill="#000" stroke="#000" text-anchor="start">(</text>
<text x="554.61" y="334.70" font-size="14" fill="#000" stroke="#000" text-anchor="start">cm</text>
<rect x="575.20" y="326.1" width="6.7" height="0.9" fill="#000"/>
<text x="582.98" y="329.60" font-size="10.4" fill="#000" stroke="#000" text-anchor="start">2</text>
<text x="590.92" y="334.70" font-size="14" fill="#000" stroke="#000" text-anchor="start">)</text>
<g transform="translate(361.0,0) rotate(-90)">
<text x="-173.59" y="0.00" font-size="14.5" fill="#000" stroke="#000" text-anchor="start">L</text>
<text transform="translate(-165.84,2.80) scale(1.090,1)" x="0" y="0" font-size="10.6" fill="#000" stroke="#000">bol</text>
<text x="-145.14" y="0.00" font-size="14.5" fill="#000" stroke="#000" text-anchor="start">L</text>
</g>
<circle cx="360.5" cy="132.55" r="3.0" fill="none" stroke="#000" stroke-width="0.95"/>
<circle cx="360.5" cy="132.55" r="0.7" fill="#000"/>
<text x="359.27" y="11.80" font-size="14.5" fill="#d62728" stroke="#d62728" text-anchor="start">b)</text>
</svg></body></html>
